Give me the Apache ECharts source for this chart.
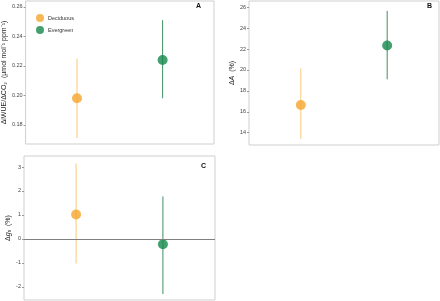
<!DOCTYPE html>
<html><head><meta charset="utf-8">
<script src="https://cdn.jsdelivr.net/npm/echarts@6/dist/echarts.min.js"></script>
<style>html,body{margin:0;padding:0;background:#fff}#c{width:440px;height:301px}</style>
</head><body><div id="c"></div>
<script>
var groups = ['Deciduous', 'Evergreen'];
var groupX = [1, 2];
// Panel A: ΔiWUE/ΔCO2
var aMean = [0.198, 0.224];
var aLow = [0.171, 0.198];
var aHigh = [0.225, 0.251];
var aTicks = [0.18, 0.20, 0.22, 0.24, 0.26];
// Panel B: ΔA (%)
var bMean = [16.65, 22.35];
var bLow = [13.4, 19.1];
var bHigh = [20.15, 25.65];
var bTicks = [14, 16, 18, 20, 22, 24, 26];
// Panel C: Δgs (%)
var cMean = [1.02, -0.22];
var cLow = [-1.03, -2.3];
var cHigh = [3.15, 1.77];
var cTicks = [-2, -1, 0, 1, 2, 3];

var colors = ['#F5A52C', '#14884A'];
var barColors = ['#F8C878', '#3E9062'];

var chart = echarts.init(document.getElementById('c'));
var grids = [
  {left: 24, top: 1, width: 190, height: 143},
  {left: 249, top: 1, width: 190, height: 144},
  {left: 24, top: 156, width: 191, height: 144}
];
grids.forEach(function (g) { g.show = true; g.borderColor = '#cfcfcf'; g.borderWidth = 1; g.backgroundColor = '#fff'; });

function yAx(idx, min, max, ticks, name, gap, dec) {
  return {
    type: 'value', gridIndex: idx, min: min, max: max,
    splitLine: {show: false}, axisLine: {show: false},
    axisTick: {show: true, length: 2, lineStyle: {color: '#999'}, customValues: ticks},
    axisLabel: {fontSize: 5.5, color: '#444', margin: 3, customValues: ticks, fontFamily: 'Liberation Sans',
      formatter: function (v) { return Number(v).toFixed(dec); }},
    name: name, nameLocation: 'middle', nameRotate: 90, nameGap: gap,
    nameTextStyle: {fontSize: 7, color: '#222', fontFamily: 'Liberation Sans',
      rich: {i: {fontSize: 7, fontStyle: 'italic', color: '#222', fontFamily: 'Liberation Sans'},
             s: {fontSize: 5, fontStyle: 'normal', color: '#222', fontFamily: 'Liberation Sans', padding: [3, 0, 0, 0]},
             n: {fontSize: 7, color: '#222', fontFamily: 'Liberation Sans'}}}
  };
}
function xAx(idx) {
  return {type: 'value', gridIndex: idx, min: 0.4, max: 2.6, show: false};
}

function errSeries(idx, low, high) {
  var data = groupX.map(function (x, i) { return [x, low[i], high[i], i]; });
  return {
    type: 'custom', xAxisIndex: idx, yAxisIndex: idx, silent: true, z: 2,
    data: data,
    renderItem: function (params, api) {
      var p1 = api.coord([api.value(0), api.value(1)]);
      var p2 = api.coord([api.value(0), api.value(2)]);
      var k = api.value(3);
      return {type: 'line', shape: {x1: p1[0], y1: p1[1], x2: p2[0], y2: p2[1]},
        style: {stroke: barColors[k], lineWidth: 1}};
    }
  };
}
function ptSeries(idx, means, k, extra) {
  var s = {
    type: 'scatter', name: groups[k], xAxisIndex: idx, yAxisIndex: idx, z: 3,
    symbol: 'circle', symbolSize: 10, itemStyle: {color: colors[k]},
    data: [[groupX[k], means[k]]], silent: true
  };
  if (extra) for (var key in extra) s[key] = extra[key];
  return s;
}

var series = [
  errSeries(0, aLow, aHigh), ptSeries(0, aMean, 0), ptSeries(0, aMean, 1),
  errSeries(1, bLow, bHigh), ptSeries(1, bMean, 0), ptSeries(1, bMean, 1),
  errSeries(2, cLow, cHigh),
  ptSeries(2, cMean, 0, {markLine: {silent: true, symbol: 'none', label: {show: false},
    lineStyle: {color: '#808080', width: 1, type: 'solid'}, data: [{yAxis: 0}]}}),
  ptSeries(2, cMean, 1)
];

chart.setOption({
  animation: false,
  grid: grids,
  xAxis: [xAx(0), xAx(1), xAx(2)],
  yAxis: [
    yAx(0, 0.167, 0.264, aTicks, '{n|ΔiWUE/ΔCO₂  (µmol mol⁻¹ ppm⁻¹)}', 15, 2),
    yAx(1, 12.82, 26.6, bTicks, '{n|Δ}{i|A}{n|  (%)}', 13, 0),
    yAx(2, -2.55, 3.46, cTicks, '{n|Δ}{i|g}{s|s}{n|  (%)}', 12, 0)
  ],
  legend: {
    show: true, left: 31, top: 9, orient: 'vertical', itemGap: 4,
    itemWidth: 8, itemHeight: 8, icon: 'circle', selectedMode: false,
    data: groups,
    textStyle: {fontSize: 5.5, color: '#333', fontFamily: 'Liberation Sans', padding: [0, 0, 0, -1]}
  },
  graphic: [
    {type: 'text', left: 196, top: 3, style: {text: 'A', font: 'bold 7px Liberation Sans', fill: '#111'}},
    {type: 'text', left: 427, top: 3, style: {text: 'B', font: 'bold 7px Liberation Sans', fill: '#111'}},
    {type: 'text', left: 201, top: 163, style: {text: 'C', font: 'bold 7px Liberation Sans', fill: '#111'}}
  ],
  series: series
});
</script></body></html>
